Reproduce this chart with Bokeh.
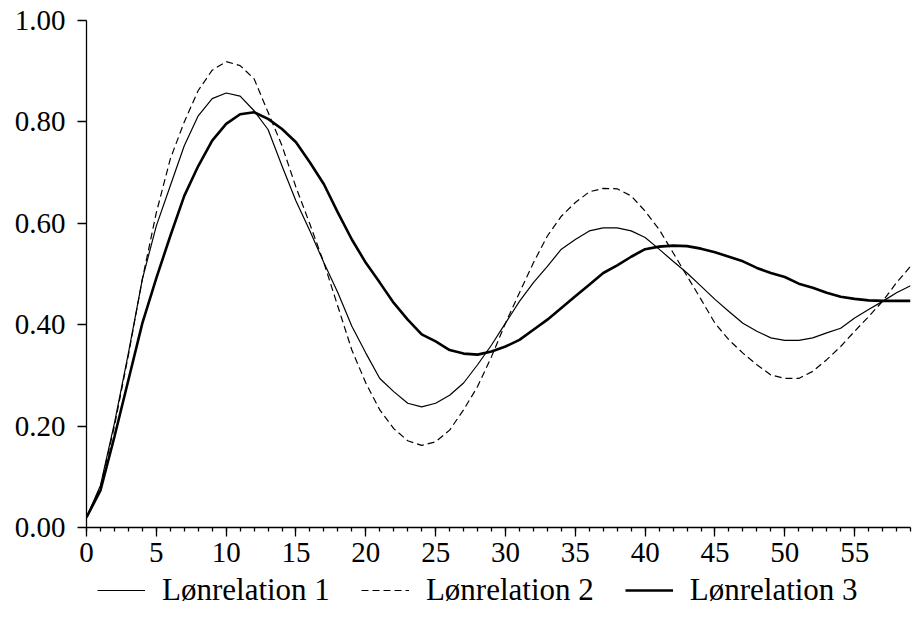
from bokeh.plotting import figure
from bokeh.layouts import column
from bokeh.models import (ColumnDataSource, Legend, LegendItem, SingleIntervalTicker,
                          FixedTicker, NumeralTickFormatter, Range1d)
from bokeh.embed import file_html
from bokeh.resources import INLINE

periods = list(range(60))

loenrelation_1 = [0.020, 0.083, 0.206, 0.344, 0.490, 0.595, 0.674, 0.753, 0.812, 0.846,
                  0.857, 0.851, 0.822, 0.785, 0.713, 0.644, 0.585, 0.522, 0.463, 0.397,
                  0.344, 0.294, 0.268, 0.245, 0.238, 0.245, 0.261, 0.285, 0.321, 0.360,
                  0.403, 0.446, 0.483, 0.515, 0.549, 0.568, 0.585, 0.591, 0.591, 0.585,
                  0.572, 0.549, 0.525, 0.502, 0.476, 0.450, 0.426, 0.403, 0.387, 0.374,
                  0.369, 0.369, 0.374, 0.384, 0.393, 0.413, 0.430, 0.446, 0.463, 0.477]

loenrelation_2 = [0.020, 0.080, 0.200, 0.340, 0.490, 0.621, 0.727, 0.800, 0.862, 0.902,
                  0.919, 0.911, 0.885, 0.819, 0.753, 0.671, 0.598, 0.522, 0.436, 0.350,
                  0.285, 0.232, 0.195, 0.171, 0.162, 0.169, 0.192, 0.232, 0.278, 0.337,
                  0.403, 0.463, 0.522, 0.575, 0.614, 0.641, 0.662, 0.669, 0.668, 0.654,
                  0.624, 0.588, 0.542, 0.496, 0.450, 0.403, 0.370, 0.344, 0.321, 0.301,
                  0.294, 0.294, 0.308, 0.331, 0.357, 0.387, 0.416, 0.446, 0.483, 0.515]

loenrelation_3 = [0.020, 0.073, 0.179, 0.291, 0.403, 0.492, 0.575, 0.654, 0.713, 0.763,
                  0.796, 0.815, 0.819, 0.806, 0.786, 0.760, 0.720, 0.677, 0.621, 0.568,
                  0.522, 0.483, 0.443, 0.410, 0.381, 0.367, 0.350, 0.343, 0.341, 0.347,
                  0.357, 0.370, 0.390, 0.410, 0.433, 0.456, 0.479, 0.502, 0.517, 0.534,
                  0.549, 0.554, 0.556, 0.555, 0.550, 0.543, 0.534, 0.525, 0.512, 0.502,
                  0.494, 0.481, 0.473, 0.463, 0.455, 0.451, 0.448, 0.447, 0.447, 0.447]

series_labels = ["Lønrelation 1", "Lønrelation 2", "Lønrelation 3"]
y_ticks = [0.0, 0.2, 0.4, 0.6, 0.8, 1.0]

FONT = "Liberation Serif"
STYLES = [dict(line_color="black", line_width=1.2),
          dict(line_color="black", line_width=1.2, line_dash="7 4"),
          dict(line_color="black", line_width=2.6)]
COLS = ["s1", "s2", "s3"]

src = ColumnDataSource(dict(x=periods, s1=loenrelation_1, s2=loenrelation_2, s3=loenrelation_3))

p = figure(output_backend="svg", toolbar_location=None,
           width=920, height=574,
           x_range=Range1d(0, 59), y_range=Range1d(0, 1.0),
           min_border_left=86, min_border_top=20, min_border_right=10, min_border_bottom=47)
p.outline_line_color = None
p.grid.visible = False
p.background_fill_color = "white"

for col, st in zip(COLS, STYLES):
    p.line("x", col, source=src, **st)

xa = p.xaxis[0]
xa.ticker = SingleIntervalTicker(interval=5, num_minor_ticks=5)
xa.major_tick_out = 9
xa.major_tick_in = 0
xa.minor_tick_out = 4
xa.minor_tick_in = 0
xa.axis_line_width = 1.3
xa.major_tick_line_width = 1.3
xa.minor_tick_line_width = 1.3
xa.major_label_text_font = FONT
xa.major_label_text_font_size = "29px"
xa.major_label_text_color = "black"
xa.major_label_standoff = 6

ya = p.yaxis[0]
ya.ticker = FixedTicker(ticks=y_ticks)
ya.formatter = NumeralTickFormatter(format="0.00")
ya.major_tick_out = 9
ya.major_tick_in = 0
ya.minor_tick_out = 0
ya.minor_tick_in = 0
ya.axis_line_width = 1.3
ya.major_tick_line_width = 1.3
ya.major_label_text_font = FONT
ya.major_label_text_font_size = "29px"
ya.major_label_text_color = "black"
ya.major_label_standoff = 12

# legend strip below the chart (its lines use the same data, kept out of view)
q = figure(output_backend="svg", toolbar_location=None, width=920, height=43,
           x_range=Range1d(0, 59), y_range=Range1d(10, 11), min_border=0)
q.axis.visible = False
q.grid.visible = False
q.outline_line_color = None
leg_renderers = [q.line("x", col, source=src, **st) for col, st in zip(COLS, STYLES)]

legend = Legend(items=[LegendItem(label=lab, renderers=[r])
                       for lab, r in zip(series_labels, leg_renderers)],
                orientation="horizontal", location=(11, 9),
                glyph_width=48, glyph_height=20, label_standoff=17, spacing=31,
                padding=0, margin=0, border_line_color=None,
                background_fill_alpha=0,
                label_text_font=FONT, label_text_font_size="31px",
                label_text_color="black")
q.add_layout(legend)

open("out.html", "w").write(file_html(column(p, q, spacing=0), INLINE))
